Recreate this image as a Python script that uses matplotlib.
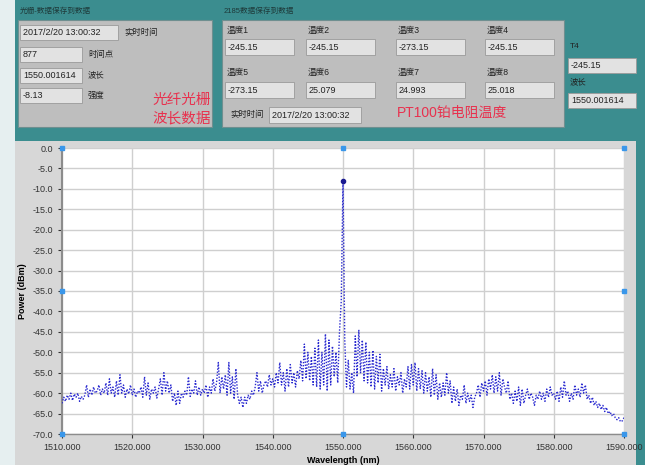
import matplotlib
matplotlib.use("Agg")
import matplotlib.pyplot as plt
import numpy as np
from matplotlib.patches import Rectangle

plt.rcParams['font.family'] = ['Liberation Sans', 'Noto Sans CJK SC', 'DejaVu Sans']

# spectrum, 0.25 nm steps from 1510 to 1590 nm (4 samples per nm row)
power = [
    -62.5, -61.0, -62.0, -60.5,  -61.5, -60.0, -61.8, -60.2,  -61.0, -60.0, -62.0, -60.8,
    -61.5, -60.5, -58.0, -61.0,  -59.0, -60.5, -58.5, -60.0,  -59.5, -58.0, -60.5, -59.0,
    -60.0, -57.5, -60.5, -56.5,  -60.0, -58.5, -61.0, -57.0,  -60.5, -55.5, -60.0, -58.0,
    -61.0, -59.0, -60.2, -58.0,  -60.5, -59.0, -61.0, -59.5,  -60.0, -58.5, -61.0, -56.0,
    -60.5, -57.5, -61.5, -59.0,  -60.0, -58.5, -61.2, -59.0,  -56.5, -60.5, -55.0, -59.5,
    -57.0, -60.0, -58.0, -62.0,  -60.0, -63.0, -59.5, -62.5,  -60.0, -61.0, -59.5, -60.5,
    -56.0, -60.8, -59.0, -60.0,  -57.0, -60.5, -58.5, -60.5,  -59.0, -60.0, -58.0, -61.0,
    -58.5, -60.0, -56.5, -59.5,  -57.5, -52.5, -60.0, -56.0,  -59.0, -55.5, -60.5, -52.5,
    -60.0, -56.0, -61.5, -54.0,  -60.5, -62.5, -61.0, -63.5,  -61.0, -62.5, -60.5, -61.5,
    -59.5, -60.5, -58.5, -55.0,  -59.5, -57.0, -60.0, -58.0,  -57.0, -58.5, -55.5, -58.0,
    -56.5, -58.5, -55.0, -57.5,  -52.5, -58.0, -55.0, -59.5,  -54.0, -58.5, -53.0, -57.5,
    -55.0, -58.5, -54.5, -56.5,  -52.0, -57.0, -48.0, -56.5,  -50.0, -57.0, -51.0, -58.0,
    -49.0, -58.5, -47.0, -59.0,  -50.0, -58.0, -45.5, -59.5,  -47.0, -58.0, -48.5, -56.0,
    -50.0, -57.5, -45.0, -37.5,  -8.13, -47.0, -58.5, -52.0,  -59.0, -55.0, -60.0, -46.0,
    -56.0, -44.5, -55.0, -47.0,  -57.0, -47.5, -57.5, -50.0,  -58.5, -49.5, -59.0, -51.0,
    -57.5, -50.5, -59.5, -54.0,  -58.0, -53.5, -59.0, -55.5,  -58.5, -54.0, -59.5, -56.0,
    -58.0, -55.0, -60.0, -56.5,  -58.5, -53.5, -59.0, -53.0,  -58.0, -52.5, -59.5, -54.0,
    -59.0, -54.5, -60.0, -55.0,  -59.5, -56.0, -61.0, -54.0,  -60.5, -55.5, -61.5, -57.5,
    -61.0, -57.5, -60.5, -55.0,  -60.0, -57.0, -62.5, -58.5,  -62.0, -59.0, -63.0, -60.5,
    -61.5, -58.0, -62.5, -60.0,  -62.0, -60.5, -63.5, -61.0,  -60.0, -58.0, -61.0, -57.5,
    -59.5, -57.0, -60.5, -56.5,  -59.0, -55.5, -60.0, -56.0,  -59.5, -55.0, -60.5, -56.5,
    -58.5, -60.0, -57.0, -61.5,  -60.0, -62.5, -59.5, -62.0,  -58.5, -63.0, -59.0, -62.5,
    -60.5, -59.0, -61.5, -60.0,  -61.0, -63.0, -60.5, -61.5,  -59.5, -61.5, -60.0, -62.0,
    -59.0, -61.0, -58.5, -60.5,  -60.0, -61.5, -59.5, -62.0,  -58.5, -61.0, -57.0, -60.5,
    -59.5, -62.0, -60.0, -61.5,  -58.0, -60.5, -59.0, -61.0,  -57.5, -60.0, -58.0, -61.5,
    -60.5, -62.5, -61.0, -63.0,  -62.0, -63.5, -62.5, -64.0,  -63.0, -64.5, -63.5, -65.0,
    -64.5, -65.5, -65.0, -66.0,  -66.5, -66.0, -67.0, -66.8,  -66.0,
]
wavelength = np.linspace(1510, 1590, len(power))

peak_wl = 1550.0
peak_dbm = -8.13

xticks = [1510, 1520, 1530, 1540, 1550, 1560, 1570, 1580, 1590]
yticks = [0, -5, -10, -15, -20, -25, -30, -35, -40, -45, -50, -55, -60, -65, -70]

# front panel fields
grating_title = "光栅-数据保存到数据"
grating_rows = [("2017/2/20 13:00:32", "实时时间"), ("877", "时间点"),
                ("1550.001614", "波长"), ("-8.13", "强度")]
pt_title = "2185数据保存到数据"
pt_labels = ["温度1", "温度2", "温度3", "温度4", "温度5", "温度6", "温度7", "温度8"]
pt_values = ["-245.15", "-245.15", "-273.15", "-245.15", "-273.15", "25.079", "24.993", "25.018"]
pt_time = "2017/2/20 13:00:32"
side_labels = ["T4", "波长"]
side_values = ["-245.15", "1550.001614"]

W, H = 645, 465
TEAL = "#3b8d8f"
BOX = "#bebebe"
FIELD = "#e2e2e2"
RED = "#e8314e"

fig = plt.figure(figsize=(W / 100, H / 100), dpi=100)
fig.patch.set_facecolor(TEAL)


def rect(x0, y0, x1, y1, fc, ec="none", lw=0.0, z=0):
    fig.add_artist(Rectangle((x0 / W, 1 - y1 / H), (x1 - x0) / W, (y1 - y0) / H,
                             transform=fig.transFigure, facecolor=fc,
                             edgecolor=ec, linewidth=lw, zorder=z))


def text(x, y, s, size=6.5, color="#222222", **kw):
    fig.text(x / W, 1 - y / H, s, fontsize=size, color=color, va="center", **kw)


def field(x0, y0, x1, y1, s):
    rect(x0, y0, x1, y1, FIELD, ec="#9a9a9a", lw=0.6, z=2)
    text(x0 + 3, (y0 + y1) / 2, s, size=6.5, zorder=3)


# background pieces
rect(0, 0, 15, H, "#e6eff0")
rect(15, 141, 636, H, "#d7d7d7", z=1)

# fiber grating group
rect(18, 20, 212, 127, BOX, ec="#6f8f90", lw=0.8, z=1)
text(20, 11, grating_title, size=5.5, color="#1e3a3a")
field(20, 25, 118, 40, grating_rows[0][0])
text(124, 33, grating_rows[0][1], size=6)
for i, (val, lab) in enumerate(grating_rows[1:]):
    y0 = 47 + i * 20.5
    field(20, y0, 82, y0 + 15, val)
    text(88, y0 + 8, lab, size=6)
text(152, 100, "光纤光栅", size=10.5, color=RED)
text(152, 118, "波长数据", size=10.5, color=RED)

# PT100 group
rect(222, 20, 564, 127, BOX, ec="#6f8f90", lw=0.8, z=1)
text(224, 11, pt_title, size=5.5, color="#1e3a3a")
col_x = [227, 308, 398, 487]
for i, (lab, val) in enumerate(zip(pt_labels, pt_values)):
    cx = col_x[i % 4]
    ly = 30 if i < 4 else 72
    by = 39 if i < 4 else 82
    text(cx, ly, lab, size=6.2)
    field(cx - 2, by, cx + 67, by + 16, val)
text(230, 115, "实时时间", size=6)
field(269, 107, 361, 123, pt_time)
text(397, 113, "PT100铂电阻温度", size=10, color=RED)

# side readouts
text(570, 47, side_labels[0], size=6)
field(568, 58, 636, 73, side_values[0])
text(570, 82, side_labels[1], size=6)
field(568, 93, 636, 108, side_values[1])

# spectrum graph
ax = fig.add_axes([62 / W, 1 - 434 / H, 562 / W, 286 / H], zorder=4)
ax.set_facecolor("white")
ax.plot(wavelength, power, linestyle=(0, (1, 1.2)), color="#2a2ad0", linewidth=1.0, zorder=3)
ax.plot([peak_wl], [peak_dbm], "o", color="#1a1a90", markersize=3, zorder=4)

ax.set_xlim(1510, 1590)
ax.set_ylim(-70, 0)
ax.set_xticks(xticks)
ax.set_yticks(yticks)
ax.set_xticklabels([f"{v:.3f}" for v in xticks])
ax.set_yticklabels([f"{v:.1f}" for v in yticks])
ax.tick_params(labelsize=6.5, colors="#333333", length=3, width=0.8)
ax.grid(True, color="#cfcfcf", linewidth=1.0)
ax.set_axisbelow(True)
for side in ["top", "right"]:
    ax.spines[side].set_visible(False)
ax.spines["left"].set_color("#8c8c8c")
ax.spines["left"].set_linewidth(1.5)
ax.spines["bottom"].set_color("#8c8c8c")
ax.spines["bottom"].set_linewidth(1.0)
ax.set_xlabel("Wavelength (nm)", fontsize=6.5, fontweight="bold", labelpad=3)
ax.set_ylabel("Power (dBm)", fontsize=6.5, fontweight="bold", labelpad=4)

# graph resize handles
for hx, hy in [(1510, 0), (1550, 0), (1590, 0), (1510, -35), (1590, -35),
               (1510, -70), (1550, -70), (1590, -70)]:
    ax.plot([hx], [hy], "s", color="#3a97ea", markersize=3.5, clip_on=False, zorder=5)

fig.savefig("out.png", dpi=100, facecolor=fig.get_facecolor())
